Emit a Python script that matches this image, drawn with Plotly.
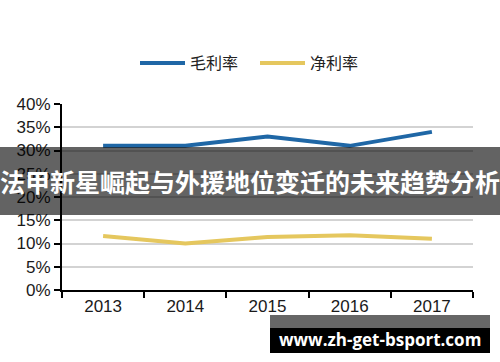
import plotly.graph_objects as go

years = ["2013", "2014", "2015", "2016", "2017"]
gross_margin = [31.0, 31.0, 33.0, 31.0, 34.0]
net_margin = [11.6, 10.0, 11.4, 11.8, 11.0]
series_names = ["毛利率", "净利率"]
y_ticks = [0, 5, 10, 15, 20, 25, 30, 35, 40]
banner_text = "法甲新星崛起与外援地位变迁的未来趋势分析"
watermark_text = "www.zh-get-bsport.com"

W, H = 500, 362
L, R, T, B = 62, 27, 104, 72
PW, PH = W - L - R, H - T - B


def px(x):
    return (x - L) / PW


def py(y):
    return (H - B - y) / PH


fig = go.Figure()
fig.add_trace(go.Scatter(x=years, y=gross_margin, mode="lines", name=series_names[0],
                         line=dict(color="#1f67a6", width=4)))
fig.add_trace(go.Scatter(x=years, y=net_margin, mode="lines", name=series_names[1],
                         line=dict(color="#e5c75e", width=4)))

fig.update_layout(
    width=W, height=H,
    margin=dict(l=L, r=R, t=T, b=B),
    paper_bgcolor="white", plot_bgcolor="white",
    font=dict(family="Liberation Sans, Arial, sans-serif", size=17, color="#1a1a1a"),
    showlegend=True,
    legend=dict(orientation="h", x=px(135), xanchor="left", yref="container",
                y=1 - 63 / H, yanchor="middle",
                font=dict(family="Noto Sans CJK SC", size=16, color="#222"),
                itemwidth=45, entrywidth=60, traceorder="normal"),
    xaxis=dict(type="category", range=[-0.5, 4.5], showgrid=False, zeroline=False,
               showline=True, linecolor="black", linewidth=2,
               ticks="outside", tickson="boundaries", ticklen=6, tickwidth=2,
               tickcolor="black"),
    yaxis=dict(range=[0, 40], tickvals=y_ticks, ticktext=[f"{v}%" for v in y_ticks],
               showgrid=True, gridcolor="#d3d3d3", gridwidth=1.5, zeroline=False,
               showline=True, linecolor="black", linewidth=2,
               ticks="outside", ticklen=6, tickwidth=2, tickcolor="black"),
    shapes=[
        dict(type="rect", xref="paper", yref="paper", x0=-1, x1=2,
             y0=py(215), y1=py(147), fillcolor="rgba(0,0,0,0.61)", line=dict(width=0),
             layer="above"),
        dict(type="rect", xref="paper", yref="paper", x0=px(270), x1=px(490),
             y0=py(328), y1=py(315), fillcolor="rgba(0,0,0,0.6)", line=dict(width=0),
             layer="above"),
        dict(type="rect", xref="paper", yref="paper", x0=px(270), x1=px(490),
             y0=py(353), y1=py(328), fillcolor="black", line=dict(width=0),
             layer="above"),
    ],
    annotations=[
        dict(text=banner_text, xref="paper", yref="paper", x=px(250), y=py(181),
             xanchor="center", yanchor="middle", showarrow=False,
             font=dict(family="Noto Sans CJK SC", size=25, color="white", weight="bold")),
        dict(text=watermark_text, xref="paper", yref="paper", x=px(380), y=py(339),
             xanchor="center", yanchor="middle", showarrow=False,
             font=dict(family="Open Sans", size=17, color="white", weight="bold")),
    ],
)

fig.write_html("out.html", config={"displayModeBar": False},
               post_script="document.body.style.margin='0';")
